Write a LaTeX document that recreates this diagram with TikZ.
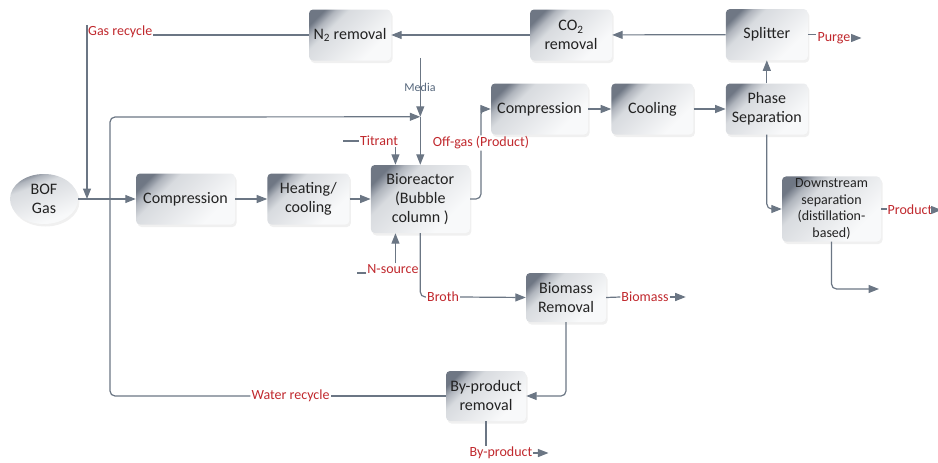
\documentclass[tikz,border=0pt]{standalone}
\usepackage{fontspec}
\setmainfont{Carlito}
\usetikzlibrary{shapes.geometric, arrows.meta, positioning, math, calc, shadows}

\definecolor{BoxDark}{HTML}{6F7784}
\definecolor{BoxEdge}{HTML}{B0B5BD}
\definecolor{BoxMid}{HTML}{D8DBDF}
\definecolor{BoxPale}{HTML}{E3E5E8}
\definecolor{BoxLight}{HTML}{F8F9FA}
\definecolor{LineCol}{HTML}{6B7684}
\definecolor{RedTxt}{HTML}{C0282D}
\definecolor{MediaTxt}{HTML}{56677C}
\definecolor{BoxTxt}{HTML}{222222}

\pgfdeclareverticalshading{BoxShade}{100bp}{color(0bp)=(BoxLight); color(30bp)=(BoxLight); color(52bp)=(BoxPale); color(64bp)=(BoxMid); color(71bp)=(BoxEdge); color(77bp)=(BoxDark); color(100bp)=(BoxDark)}

\begin{document}
\begin{tikzpicture}[x=1pt, y=-1pt]
		\tikzmath{
			\nodeW       = 82;   %node width
			\nodeH       = 51;   %node height
			\wideW       = 99;   %width of the wide nodes
		}
		\tikzstyle{Base} = [
			rectangle,
			rounded corners=4pt,
			align=center,
			text=BoxTxt,
			inner sep=2pt,
			shading=BoxShade,
			shading angle=45,
			drop shadow={shadow xshift=1.5pt, shadow yshift=-2.5pt, opacity=0.12},
			font=\fontsize{16}{19}\selectfont
		]
		\tikzstyle{LightNode} = [
			minimum width=\nodeW pt,
			minimum height=\nodeH pt,
			Base
		]
		\tikzstyle{WideNode} = [
			minimum width=\wideW pt,
			minimum height=\nodeH pt,
			Base
		]
		\tikzstyle{ReactorNode} = [
			minimum width=\wideW pt,
			minimum height=68pt,
			Base
		]
		\tikzstyle{DownNode} = [
			minimum width=\wideW pt,
			minimum height=64pt,
			Base,
			font=\fontsize{14}{16.7}\selectfont
		]
		\tikzstyle{GasNode} = [
			Base,
			ellipse,
			shading angle=20,
			minimum width=68pt,
			minimum height=50pt,
			inner sep=0pt
		]
		\tikzstyle{RedLabel} = [
			text=RedTxt,
			inner sep=1pt,
			font=\fontsize{14}{15}\selectfont
		]
		\tikzstyle{MediaLabel} = [
			text=MediaTxt,
			inner sep=1pt,
			font=\fontsize{12}{13}\selectfont
		]
		\tikzstyle{Plain} = [
			draw=LineCol,
			line width=1.2pt,
			rounded corners=5pt
		]
		\tikzstyle{Flow} = [
			->,
			>={Triangle[length=10.5pt, width=8pt]},
			Plain
		]

		\useasboundingbox (0,0) rectangle (938,463);

		%%%%%%%%%%%%%%%%%%%%%%%%%%===---FEED LINE---===%%%%%%%%%%%%%%%%%%%%%%%%%%
		\node (bof) [GasNode] at (44,199) {BOF\\Gas};
		\node (comp1) [WideNode] at (185.5,199) {Compression};
			\node (heat) [LightNode, right = 32pt of comp1] {Heating/\\cooling};
			\node (bio) [ReactorNode, right = 21pt of heat] {Bioreactor\\(Bubble\\column )};
		\draw [Flow] (bof.east) -- (comp1.west);
		\draw [Flow] (comp1) -- (heat);
		\draw [Flow] (heat) -- (bio);
		%%%%%%%%%%%%%%%%%%%%%%%%%%===---OFF-GAS LINE---===%%%%%%%%%%%%%%%%%%%%%%%%%%
		\node (comp2) [WideNode, minimum width=97pt] at (539.5,109) {Compression};
			\node (cool) [LightNode, right = 23pt of comp2] {Cooling};
			\node (phase) [LightNode, right = 32pt of cool] {Phase\\Separation};
			\node (split) [LightNode, above = 23pt of phase] {Splitter};
		\node (co2) [LightNode] at (571,35) {CO\textsubscript{2}\\removal};
		\node (n2) [LightNode] at (350,35) {N\textsubscript{2} removal};
		\node (offgas) [RedLabel] at (481,143) {Off-gas (Product)};
		\draw [Plain] (bio.east) -| (offgas.south);
		\draw [Flow] (offgas.north) |- (comp2.west);
		\draw [Flow] (comp2) -- (cool);
		\draw [Flow] (cool) -- (phase);
		\draw [Flow] (phase) -- (split);
		\draw [Flow] (split) -- (co2);
		\draw [Flow] (co2) -- (n2);
		\node (purge) [RedLabel] at (834,38) {Purge};
		\draw [Plain] (split.east) -- (split.east -| purge.west);
		\draw [Flow] (purge.east) -- ++(10,0);
		%%%%%%%%%%%%%%%%%%%%%%%%%%===---GAS RECYCLE---===%%%%%%%%%%%%%%%%%%%%%%%%%%
		\node (gasrec) [RedLabel, anchor=west] at (87,32) {Gas recycle};
		\draw [Plain] (n2.west) -- (n2.west -| gasrec.east);
		\draw [Flow] (gasrec.north west) -- (gasrec.north west |- bof.east);
		%%%%%%%%%%%%%%%%%%%%%%%%%%===---REACTOR INPUTS---===%%%%%%%%%%%%%%%%%%%%%%%%%%
		\coordinate (mediaIn) at ($(bio.north)+(0,-107)$);
		\coordinate (mix) at ($(bio.north)+(0,-48)$);
		\coordinate (bioT) at ($(bio.north west)!0.25!(bio.north east)$);
		\coordinate (bioB) at ($(bio.south west)!0.25!(bio.south east)$);
		\node (media) [MediaLabel] at (420,87) {Media};
		\draw [Flow] (mediaIn) -- (mix);
		\draw [Flow] (mix) -- (bio.north);
		\node (titrant) [RedLabel] at (379,141) {Titrant};
		\draw [Plain] (titrant.west) -- ++(-16,0);
		\draw [Flow] (titrant.south -| bioT) -- (bioT);
		\node (nsrc) [RedLabel] at (393,269) {N-source};
		\draw [Plain] ($(nsrc.west)+(0,4)$) -- ++(-9,0);
		\draw [Flow] (nsrc.north -| bioB) -- (bioB);
		%%%%%%%%%%%%%%%%%%%%%%%%%%===---BROTH LINE---===%%%%%%%%%%%%%%%%%%%%%%%%%%
		\node (bmr) [LightNode, minimum width=80pt, minimum height=49pt] at (566,297.5) {Biomass\\Removal};
		\node (byp) [LightNode, minimum width=80pt, minimum height=50pt] at (486,396) {By-product\\removal};
		\node (broth) [RedLabel] at (443,297) {Broth};
		\node (biomass) [RedLabel] at (645,297) {Biomass};
		\node (byprod) [RedLabel] at (501,453) {By-product};
		\node (water) [RedLabel] at (290.5,396) {Water recycle};
		\coordinate (wrCorner) at (110,117);
		\draw [Plain] (bio.south) |- (broth.west);
		\draw [Flow] (broth.east) -- (bmr.west);
		\draw [Plain] (bmr.east) -- (biomass.west);
		\draw [Flow] (biomass.east) -- ++(16,0);
		\draw [Flow] (bmr.south) |- (byp.east);
		\draw [Plain] (byp.south) -- (byp.south |- byprod.north);
		\draw [Flow] (byprod.east) -- ++(15,0);
		\draw [Plain] (byp.west) -- (water.east);
		\draw [Flow] (water.west) -| (wrCorner) -- (mix);
		%%%%%%%%%%%%%%%%%%%%%%%%%%===---PRODUCT LINE---===%%%%%%%%%%%%%%%%%%%%%%%%%%
		\node (down) [DownNode] at (831.5,209) {Downstream\\separation\\(distillation-\\based)};
		\node (product) [RedLabel] at (910,210) {Product};
		\coordinate (downOut) at (879,289);
		\draw [Flow] (phase.south) |- (down.west);
		\draw [Plain] (down.east) -- (down.east -| product.west);
		\draw [Flow] (product.east) -- ++(8,0);
		\draw [Flow] (down.south) |- (downOut);

	\end{tikzpicture}
\end{document}
